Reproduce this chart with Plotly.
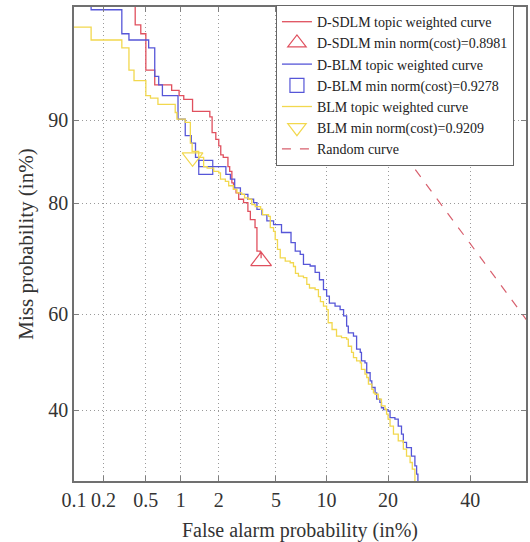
from statistics import NormalDist
import plotly.graph_objects as go

# ---------------- data (percent) ----------------
x_tick_pct = [0.1, 0.2, 0.5, 1, 2, 5, 10, 20, 40]
x_tick_txt = ["0.1", "0.2", "0.5", "1", "2", "5", "10", "20", "40"]
y_tick_pct = [40, 60, 80, 90]
y_tick_txt = ["40", "60", "80", "90"]

dsdlm_fa = [0.40, 0.40, 0.45, 0.50, 0.60, 0.84, 0.97, 1.06, 1.25, 1.71, 1.78, 1.90, 2.00, 2.07,
            2.16, 2.34, 2.41, 2.50, 2.57, 2.68, 2.80, 3.03, 3.25, 3.38, 3.64, 3.75, 3.95, 4.00]
dsdlm_miss = [99.0, 96.3, 95.9, 93.9, 92.9, 92.5, 92.1, 91.8, 90.8, 90.3, 88.8, 88.1, 87.4, 86.4,
              86.1, 85.0, 84.4, 82.9, 82.0, 81.5, 80.6, 80.1, 78.8, 77.5, 76.2, 72.2, 71.8, 70.9]
dsdlm_min_fa = [4.00]
dsdlm_min_miss = [70.4]

dblm_fa = [0.15, 0.15, 0.30, 0.35, 0.53, 0.60, 0.65, 0.70, 0.95, 1.09, 1.22, 1.32, 1.40, 2.26,
           2.44, 2.62, 2.88, 3.25, 3.56, 3.75, 4.05, 4.37, 4.83, 5.43, 6.22, 6.60, 7.07, 7.39,
           8.08, 8.63, 9.13, 9.61, 10.0, 10.35, 11.1, 11.8, 12.3, 12.75, 13.0, 13.8, 14.3, 14.9,
           15.1, 15.7, 16.0, 16.6, 16.9, 17.5, 17.8, 18.4, 18.7, 19.1, 20.0, 20.4, 21.4, 22.1,
           22.8, 23.2, 23.9, 25.0, 25.8, 26.2, 26.5]
dblm_miss = [99.0, 96.9, 95.9, 95.6, 95.2, 93.5, 92.9, 92.1, 90.1, 88.5, 87.7, 86.1, 85.0, 84.0,
             83.4, 82.2, 81.3, 80.6, 80.1, 79.1, 78.3, 77.3, 76.7, 75.4, 73.7, 72.2, 71.6, 69.8,
             69.5, 68.3, 66.9, 65.0, 63.7, 62.3, 61.7, 61.0, 59.7, 57.6, 56.2, 55.5, 52.8, 52.1,
             50.3, 49.9, 47.8, 46.1, 44.7, 43.6, 42.3, 41.6, 40.5, 40.1, 39.8, 38.5, 38.2, 36.8,
             35.2, 33.6, 32.6, 31.0, 29.2, 27.7, 26.0]
dblm_min_fa = [1.59]
dblm_min_miss = [84.9]

blm_fa = [0.089, 0.15, 0.30, 0.35, 0.39, 0.50, 0.55, 0.64, 0.90, 0.93, 1.09, 1.20, 1.24, 1.40,
          1.53, 1.63, 1.83, 2.00, 2.06, 2.24, 2.37, 2.57, 2.72, 2.94, 3.08, 3.28, 3.46, 3.65,
          3.97, 4.09, 4.48, 4.60, 4.83, 4.95, 5.12, 5.33, 5.73, 6.15, 6.44, 6.62, 6.90, 7.39,
          7.73, 8.01, 8.63, 9.01, 9.24, 9.61, 10.0, 10.2, 10.7, 11.3, 12.0, 12.75, 13.0, 13.5,
          13.8, 14.3, 14.9, 15.1, 15.7, 16.0, 16.3, 16.9, 17.2, 17.5, 18.1, 18.7, 19.4, 19.7,
          20.0, 20.4, 21.1, 22.1, 23.2, 23.9, 24.7, 25.2, 25.8]
blm_miss = [96.2, 95.6, 95.2, 93.9, 93.2, 92.1, 91.9, 91.4, 90.7, 90.1, 89.8, 87.7, 86.8, 86.1,
            85.0, 84.8, 84.4, 84.2, 83.4, 83.1, 82.5, 82.0, 81.5, 81.3, 80.8, 80.6, 79.8, 79.5,
            79.1, 78.3, 78.0, 76.2, 75.6, 74.2, 72.5, 71.0, 70.4, 70.1, 69.4, 68.1, 67.6, 67.3,
            66.0, 65.3, 65.0, 63.6, 62.6, 61.7, 61.0, 58.3, 56.9, 55.5, 55.2, 54.9, 53.4, 52.1,
            51.0, 50.3, 49.9, 48.5, 47.5, 46.8, 45.4, 44.3, 43.6, 43.3, 42.3, 40.9, 40.2, 39.2,
            38.2, 36.8, 35.2, 33.9, 32.3, 31.0, 29.8, 28.6, 26.0]
blm_min_fa = [1.25]
blm_min_miss = [86.1]

random_fa = [5.0, 20.0, 40.0, 60.0]
random_miss = [97.8, 88.8, 73.5, 54.8]

x_range_pct = [0.1, 55.8]
y_range_pct = [26.5, 97.0]

# ---------------- probit (normal deviate) scale ----------------
ND = NormalDist()


def probit(values):
    return [ND.inv_cdf(v / 100.0) for v in values]


RED = "#e0505e"
BLUE = "#5656d8"
YELLOW = "#f2d84e"
RAND = "#d8606e"
FONT = "Liberation Serif"
TXT = "#333333"

fig = go.Figure()

fig.add_trace(go.Scatter(x=probit(dsdlm_fa), y=probit(dsdlm_miss), mode="lines",
                         line=dict(color=RED, width=1.3, shape="hv"),
                         name="D-SDLM topic weighted curve"))
fig.add_trace(go.Scatter(x=probit(dsdlm_min_fa), y=probit(dsdlm_min_miss), mode="markers",
                         marker=dict(symbol="triangle-up-open", size=18, color=RED,
                                     line=dict(width=1.2, color=RED)),
                         name="D-SDLM min norm(cost)=0.8981"))
fig.add_trace(go.Scatter(x=probit(dblm_fa), y=probit(dblm_miss), mode="lines",
                         line=dict(color=BLUE, width=1.3, shape="hv"),
                         name="D-BLM topic weighted curve"))
fig.add_trace(go.Scatter(x=probit(dblm_min_fa), y=probit(dblm_min_miss), mode="markers",
                         marker=dict(symbol="square-open", size=14, color=BLUE,
                                     line=dict(width=1.2, color=BLUE)),
                         name="D-BLM min norm(cost)=0.9278"))
fig.add_trace(go.Scatter(x=probit(blm_fa), y=probit(blm_miss), mode="lines",
                         line=dict(color=YELLOW, width=1.3, shape="hv"),
                         name="BLM topic weighted curve"))
fig.add_trace(go.Scatter(x=probit(blm_min_fa), y=probit(blm_min_miss), mode="markers",
                         marker=dict(symbol="triangle-down-open", size=18, color=YELLOW,
                                     line=dict(width=1.2, color=YELLOW)),
                         name="BLM min norm(cost)=0.9209"))
fig.add_trace(go.Scatter(x=probit(random_fa), y=probit(random_miss), mode="lines",
                         line=dict(color=RAND, width=1.2, dash="dash"),
                         name="Random curve"))

axis_common = dict(
    showgrid=True, gridcolor="#9a9a9a", gridwidth=1, griddash="1px,3px",
    showline=True, linecolor="#707070", linewidth=1.5, mirror="ticks",
    ticks="inside", ticklen=5, tickcolor="#808080", tickwidth=1,
    zeroline=False, tickangle=0,
    tickfont=dict(family=FONT, size=20, color=TXT),
)

fig.update_xaxes(range=probit(x_range_pct), tickmode="array",
                 tickvals=probit(x_tick_pct), ticktext=x_tick_txt,
                 title=dict(text="False alarm probability (in%)",
                            font=dict(family=FONT, size=20, color=TXT), standoff=13),
                 **axis_common)
fig.update_yaxes(range=probit(y_range_pct), tickmode="array",
                 tickvals=probit(y_tick_pct), ticktext=y_tick_txt,
                 title=dict(text="Miss probability (in%)",
                            font=dict(family=FONT, size=21, color=TXT), standoff=9),
                 **axis_common)

fig.update_layout(
    width=530, height=542,
    margin=dict(l=74, r=2, t=7, b=61),
    plot_bgcolor="white", paper_bgcolor="white",
    showlegend=True,
    legend=dict(x=0.4468, y=1.004, xanchor="left", yanchor="top",
                bgcolor="white", bordercolor="#666666", borderwidth=1,
                font=dict(family=FONT, size=14, color="#222222"),
                traceorder="normal"),
)

fig.write_html("out.html")
